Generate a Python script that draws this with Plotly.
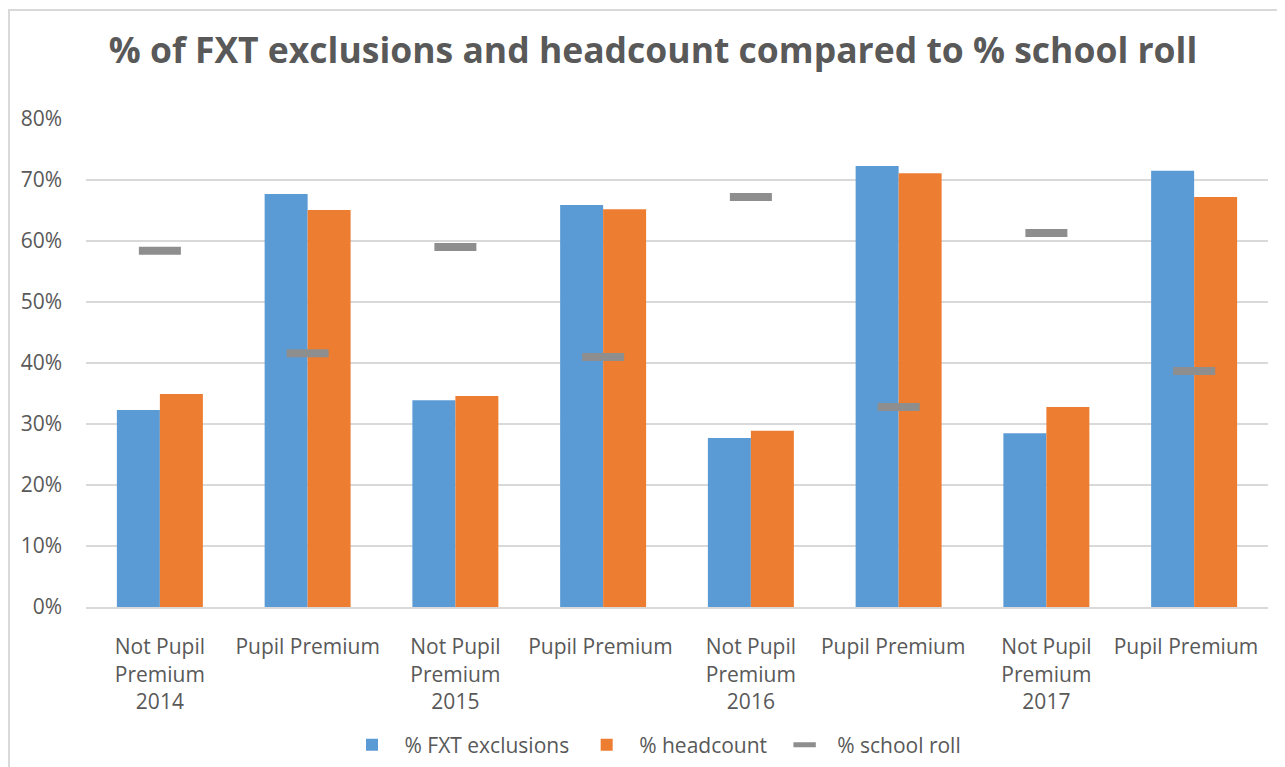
import plotly.graph_objects as go

categories = ["Not Pupil<br>Premium<br>2014", "Pupil Premium",
              "Not Pupil<br>Premium<br>2015", "Pupil Premium ",
              "Not Pupil<br>Premium<br>2016", "Pupil Premium  ",
              "Not Pupil<br>Premium<br>2017", "Pupil Premium   "]
fxt_exclusions = [32.3, 67.7, 33.9, 65.9, 27.7, 72.3, 28.5, 71.5]
headcount = [34.9, 65.1, 34.6, 65.2, 28.9, 71.1, 32.8, 67.2]
school_roll = [58.4, 41.6, 59.0, 41.0, 67.2, 32.8, 61.3, 38.7]
y_ticks = [0, 10, 20, 30, 40, 50, 60, 70, 80]

FONT = "Open Sans, sans-serif"
TXT = "#595959"

L, T, W, H = 78, 111, 1182, 488

fig = go.Figure()
fig.add_trace(go.Bar(name="% FXT exclusions", x=categories, y=fxt_exclusions,
                     marker=dict(color="#5B9BD5", line=dict(width=0))))
fig.add_trace(go.Bar(name="% headcount", x=categories, y=headcount,
                     marker=dict(color="#ED7D31", line=dict(width=0))))
fig.add_trace(go.Scatter(name="% school roll", x=categories, y=school_roll, mode="markers",
                         marker=dict(symbol="line-ew", size=30,
                                     line=dict(width=8, color="#8E8E8E"))))

fig.update_layout(
    width=1285, height=767,
    paper_bgcolor="white", plot_bgcolor="white",
    margin=dict(l=L, r=1285 - L - W, t=T, b=767 - T - H, autoexpand=False),
    barmode="group", bargap=0.418, bargroupgap=0,
    title=dict(text="<b>% of FXT exclusions and headcount compared to % school roll</b>",
               x=(645 - L) / W, xref="paper", xanchor="center",
               y=0.944, yanchor="middle",
               font=dict(family=FONT, size=35.5, color=TXT)),
    font=dict(family=FONT, color=TXT, size=21),
    legend=dict(orientation="h", x=(645 - L) / W, xanchor="center", y=-0.283, yanchor="middle",
                font=dict(size=21, color=TXT), traceorder="normal",
                itemwidth=55),
    xaxis=dict(showgrid=False, showline=True, linecolor="#D9D9D9", linewidth=2,
               tickfont=dict(size=21, color=TXT), ticks="", ticklabelstandoff=20,
               automargin=False, range=[-0.5, len(categories) - 0.5]),
    yaxis=dict(range=[0, 80], tickvals=y_ticks, ticktext=[f"{v}%" for v in y_ticks],
               showgrid=True, gridcolor="#D9D9D9", gridwidth=2, zeroline=False,
               tickfont=dict(size=21, color=TXT), ticks="", ticklabelstandoff=23,
               automargin=False),
    showlegend=True,
)

fig.add_shape(type="rect", xref="paper", yref="paper",
              x0=(1 - L) / W, x1=1.2, y0=-0.5, y1=(H + T - 2) / H,
              line=dict(color="#D9D9D9", width=2), fillcolor="rgba(0,0,0,0)", layer="below")

fig.write_html("out.html")
